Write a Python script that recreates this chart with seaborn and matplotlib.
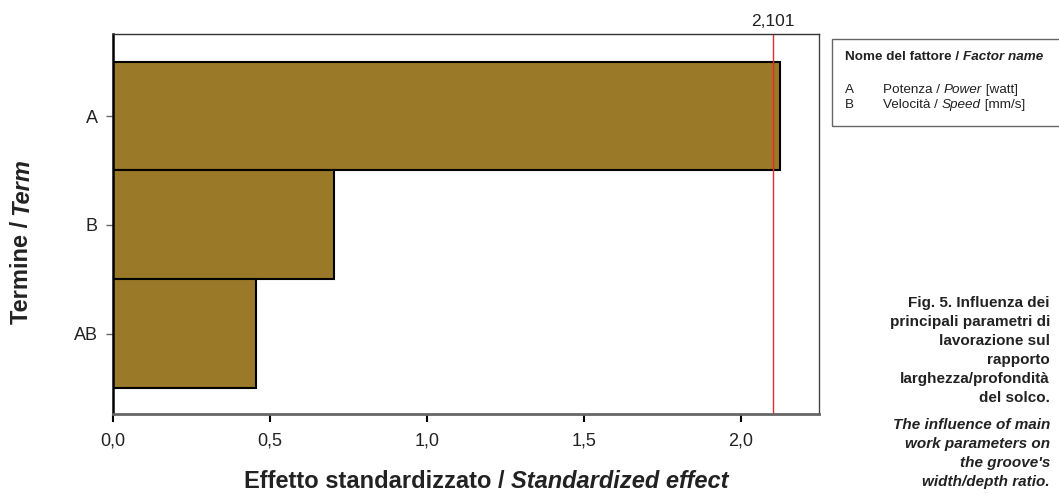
import matplotlib
matplotlib.use("Agg")
import matplotlib.pyplot as plt
from matplotlib.transforms import IdentityTransform
import seaborn as sns
import pandas as pd

terms = ["A", "B", "AB"]
effects = [2.124, 0.704, 0.455]
critical = 2.101
x_ticks = [0.0, 0.5, 1.0, 1.5, 2.0]
factor_codes = ["A", "B"]
factor_it = ["Potenza / ", "Velocità / "]
factor_en = ["Power", "Speed"]
factor_units = [" [watt]", " [mm/s]"]

sns.set_theme(style="white")
plt.rcParams["font.family"] = ["Liberation Sans", "DejaVu Sans"]

W, H = 1059, 494
fig = plt.figure(figsize=(W / 100, H / 100), dpi=100)
ax = fig.add_axes([113 / W, 1 - 414 / H, (819 - 113) / W, (414 - 34) / H])

df = pd.DataFrame({"term": terms, "effect": effects})
sns.barplot(data=df, x="effect", y="term", orient="h", color="#9a7a29",
            saturation=1, width=1.0, edgecolor="black", linewidth=1.5, ax=ax)

ax.axvline(critical, color="#e8292b", lw=1)
ax.set_xlim(0, 2.248)
ax.set_ylim(2.74, -0.755)
ax.set_xticks(x_ticks)
ax.set_xticklabels([f"{t:.1f}".replace(".", ",") for t in x_ticks], fontsize=13)
ax.tick_params(axis="x", length=6, width=1.5, color="black", pad=7, labelcolor="#222222")
ax.tick_params(axis="y", length=5, width=1, color="#666666", pad=6, labelsize=13, labelcolor="#222222")
ax.tick_params(left=True, bottom=True)
ax.set_xlabel("")
ax.set_ylabel("")
for side, lw, c in [("left", 1.8, "black"), ("bottom", 2.0, "#666666"),
                    ("top", 1.0, "#333333"), ("right", 1.0, "#444444")]:
    ax.spines[side].set_linewidth(lw)
    ax.spines[side].set_color(c)

ax.text(critical, 1 + 8 / 380, f"{critical:.3f}".replace(".", ","), transform=ax.get_xaxis_transform(),
        ha="center", va="baseline", fontsize=12.5, color="#222222")

renderer = fig.canvas.get_renderer()


def rich(x, y, parts, rotation=0, size=17):
    # parts: list of (text, style) drawn end to end, centred on (x, y) in pixels
    objs = []
    for txt, st in parts:
        t = fig.text(0, 0, txt, fontsize=size, fontweight="bold", style=st,
                     rotation=rotation, transform=IdentityTransform(),
                     ha="left", va="center", rotation_mode="anchor", color="#222222")
        objs.append(t)
    lengths = []
    for t in objs:
        bb = t.get_window_extent(renderer)
        lengths.append(bb.height if rotation else bb.width)
    total = sum(lengths)
    pos = -total / 2
    for t, L in zip(objs, lengths):
        if rotation:
            t.set_position((x, H - y + pos))
        else:
            t.set_position((x + pos, H - y))
        pos += L


rich(486, 481, [("Effetto standardizzato / ", "normal"), ("Standardized effect", "italic")])
rich(22, 241, [("Termine / ", "normal"), ("Term", "italic")], rotation=90)

# factor legend box
fig.patches.append(plt.Rectangle((832 / W, 1 - 126 / H), 240 / W, 87 / H,
                                 transform=fig.transFigure, fill=False,
                                 edgecolor="#666666", lw=1))
t0 = fig.text(845 / W, 1 - 57 / H, "Nome del fattore / ", fontsize=9.7, fontweight="bold",
              va="center", color="#222222")
w0 = t0.get_window_extent(renderer).width
fig.text((845 + w0) / W, 1 - 57 / H, "Factor name", fontsize=9.7, fontweight="bold",
         style="italic", va="center", color="#222222")
for i, code in enumerate(factor_codes):
    yy = 1 - (90 + i * 15) / H
    fig.text(845 / W, yy, code, fontsize=9.7, va="center", color="#222222")
    xx = 883
    for txt, st in [(factor_it[i], "normal"), (factor_en[i], "italic"), (factor_units[i], "normal")]:
        t = fig.text(xx / W, yy, txt, fontsize=9.7, style=st, va="center", color="#222222")
        xx += t.get_window_extent(renderer).width

caption_it = ["Fig. 5. Influenza dei", "principali parametri di", "lavorazione sul",
              "rapporto", "larghezza/profondità", "del solco."]
caption_en = ["The influence of main", "work parameters on", "the groove's",
              "width/depth ratio."]
for i, line in enumerate(caption_it):
    fig.text(1050 / W, 1 - (303 + i * 19) / H, line, ha="right", va="center",
             fontsize=11, fontweight="bold", color="#222222")
for i, line in enumerate(caption_en):
    fig.text(1050 / W, 1 - (425 + i * 19) / H, line, ha="right", va="center",
             fontsize=11, fontweight="bold", style="italic", color="#222222")

fig.savefig("out.png", dpi=100)
